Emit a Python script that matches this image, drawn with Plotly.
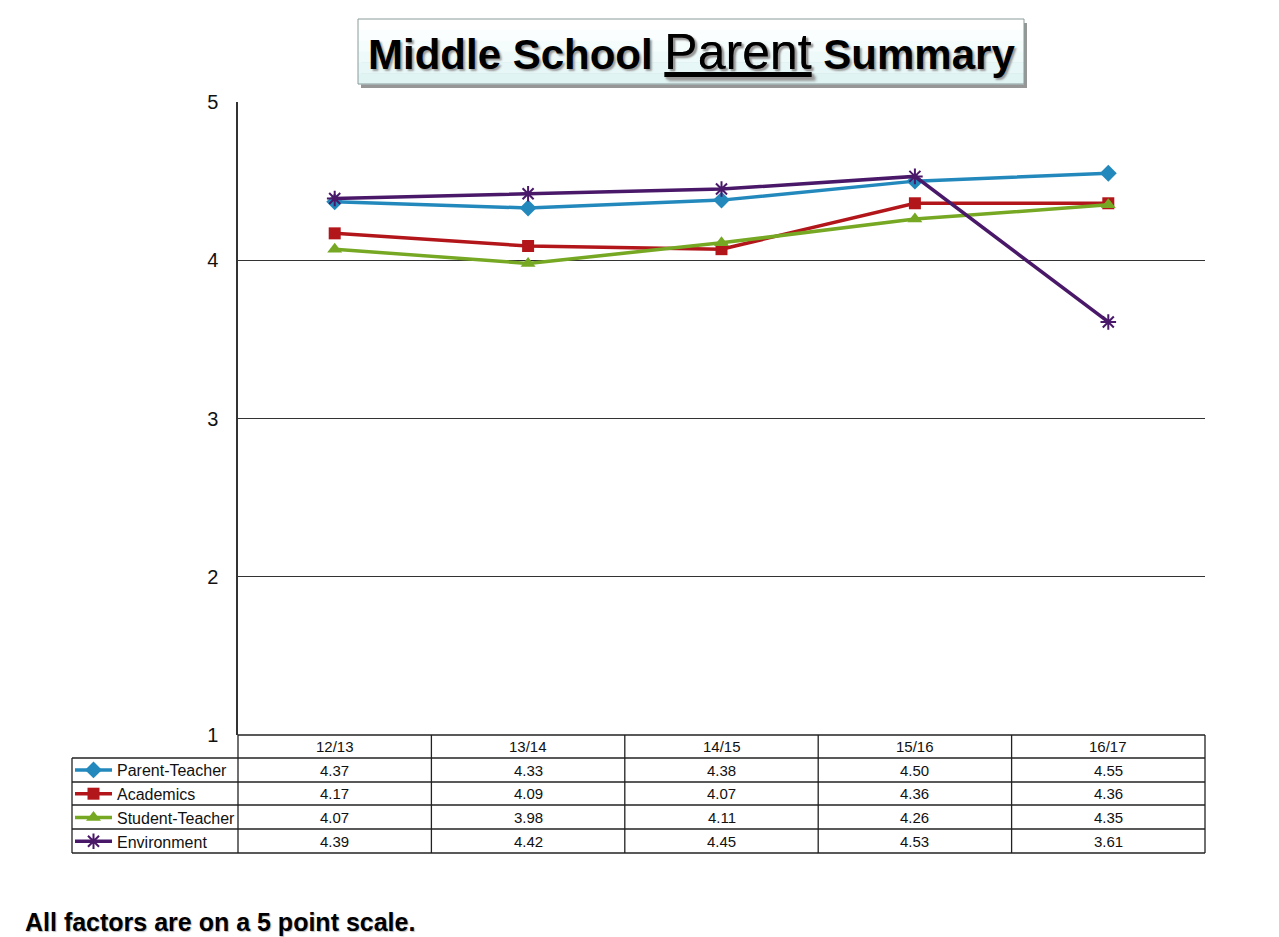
"""Middle School Parent Summary: survey factor averages by school year."""
import plotly.graph_objects as go

years = ['12/13', '13/14', '14/15', '15/16', '16/17']
parent_teacher = [4.37, 4.33, 4.38, 4.50, 4.55]
academics = [4.17, 4.09, 4.07, 4.36, 4.36]
student_teacher = [4.07, 3.98, 4.11, 4.26, 4.35]
environment = [4.39, 4.42, 4.45, 4.53, 3.61]

y_ticks = [1, 2, 3, 4, 5]

series = [
    ('Parent-Teacher', parent_teacher, '#2389bd', 'diamond', 13),
    ('Academics', academics, '#b3161a', 'square', 12),
    ('Student-Teacher', student_teacher, '#76a823', 'triangle-up', 13),
    ('Environment', environment, '#4a1869', 'asterisk-open', 13),
]

W, H = 1279, 937
OFF = 8  # page body margin
FONT = 'Liberation Sans, Arial, sans-serif'


def fx(px):
    return (px - OFF) / W


def fy(py):
    return 1 - (py - OFF) / H


# pixel layout of the plot area and data table
PLOT_L, PLOT_R, PLOT_T, PLOT_B = 238, 1205, 102, 735
LEG_L = 72
ROW_EDGES = [735, 758, 782, 805, 829, 853]

fig = go.Figure()
for i, (name, vals, color, symbol, size) in enumerate(series):
    marker = dict(symbol=symbol, size=size, color=color)
    if symbol.endswith('open'):
        marker['line'] = dict(width=2, color=color)
    fig.add_trace(go.Scatter(
        x=years, y=vals, name=name, mode='lines+markers',
        line=dict(color=color, width=3.5), marker=marker,
        legendgroup=f'g{i}', cliponaxis=False,
    ))

shapes = []
# title box: shadow, gradient bands, border
bx0, bx1, by0, by1 = 358, 1024, 19, 84
shapes.append(dict(type='rect', xref='paper', yref='paper',
                   x0=fx(bx0 + 3), x1=fx(bx1 + 3), y0=fy(by0 + 4), y1=fy(by1 + 4),
                   fillcolor='rgba(80,80,80,0.6)', line=dict(width=0), layer='below'))
band_colors = ['#ffffff', '#fbfefe', '#f5fcfc', '#eefafa', '#e7f7f7', '#e0f4f4']
band_h = (by1 - by0) / len(band_colors)
for k, c in enumerate(band_colors):
    shapes.append(dict(type='rect', xref='paper', yref='paper',
                       x0=fx(bx0), x1=fx(bx1),
                       y0=fy(by0 + k * band_h), y1=fy(by0 + (k + 1) * band_h + 0.5),
                       fillcolor=c, line=dict(width=0), layer='below'))
shapes.append(dict(type='rect', xref='paper', yref='paper',
                   x0=fx(bx0), x1=fx(bx1), y0=fy(by0), y1=fy(by1),
                   line=dict(color='#8a9a9a', width=1), layer='below'))

# data table grid
col_edges = [PLOT_L + k * (PLOT_R - PLOT_L) / len(years) for k in range(len(years) + 1)]
line_style = dict(color='#222222', width=1.3)
for j, ry in enumerate(ROW_EDGES):
    left = PLOT_L if j == 0 else LEG_L
    shapes.append(dict(type='line', xref='paper', yref='paper',
                       x0=fx(left), x1=fx(PLOT_R), y0=fy(ry), y1=fy(ry), line=line_style))
for cx in col_edges:
    shapes.append(dict(type='line', xref='paper', yref='paper',
                       x0=fx(cx), x1=fx(cx), y0=fy(ROW_EDGES[0]), y1=fy(ROW_EDGES[-1]),
                       line=line_style))
shapes.append(dict(type='line', xref='paper', yref='paper',
                   x0=fx(LEG_L), x1=fx(LEG_L), y0=fy(ROW_EDGES[1]), y1=fy(ROW_EDGES[-1]),
                   line=line_style))

annotations = []
row_mid = [(ROW_EDGES[k] + ROW_EDGES[k + 1]) / 2 for k in range(len(ROW_EDGES) - 1)]
cell_font = dict(size=15, color='#111')
for yr in years:
    annotations.append(dict(x=yr, xref='x', y=fy(row_mid[0]), yref='paper',
                            xanchor='center', yanchor='middle',
                            text=yr, showarrow=False, font=cell_font))
for r, (_, vals, _, _, _) in enumerate(series):
    for yr, v in zip(years, vals):
        annotations.append(dict(x=yr, xref='x', y=fy(row_mid[r + 1]), yref='paper',
                                xanchor='center', yanchor='middle',
                                text=f'{v:.2f}', showarrow=False, font=cell_font))

annotations.append(dict(
    x=fx((bx0 + bx1) / 2), y=fy((by0 + by1) / 2 + 1), xref='paper', yref='paper',
    xanchor='center', yanchor='middle',
    text=("<b>Middle School </b><span style='font-size:50px'><u>Parent</u></span>"
          "<b> Summary</b>"),
    showarrow=False, font=dict(size=42, color='black', family=FONT,
                               shadow='2px 2px 2px #999999')))
annotations.append(dict(
    x=fx(23), y=fy(922), xref='paper', yref='paper', xanchor='left', yanchor='middle',
    text='<b>All factors are on a 5 point scale.</b>', showarrow=False,
    font=dict(size=25, color='black', family=FONT, shadow='1px 1px 1px #bbbbbb')))

fig.update_layout(
    width=W, height=H,
    margin=dict(l=0, r=0, t=0, b=0, autoexpand=False),
    paper_bgcolor='white', plot_bgcolor='white',
    font=dict(family=FONT, color='#111'),
    xaxis=dict(domain=[fx(PLOT_L), fx(PLOT_R)], type='category',
               range=[-0.5, len(years) - 0.5], showticklabels=False,
               showgrid=False, zeroline=False, showline=False, automargin=False),
    yaxis=dict(domain=[fy(PLOT_B), fy(PLOT_T)], range=[1, 5], tickvals=y_ticks,
               showgrid=True, gridcolor='#333333', gridwidth=1.3,
               showline=True, linecolor='#333333', linewidth=1.5,
               zeroline=False, ticks='', ticklabelstandoff=14, automargin=False,
               tickfont=dict(size=20, color='#111')),
    showlegend=True,
    legend=dict(x=fx(LEG_L - 2), y=fy(ROW_EDGES[1] - 5), xanchor='left', yanchor='top',
                font=dict(size=16, color='#111'), tracegroupgap=0, itemwidth=37,
                bgcolor='rgba(0,0,0,0)', itemclick=False),
    shapes=shapes,
    annotations=annotations,
)

fig.write_html("out.html")
